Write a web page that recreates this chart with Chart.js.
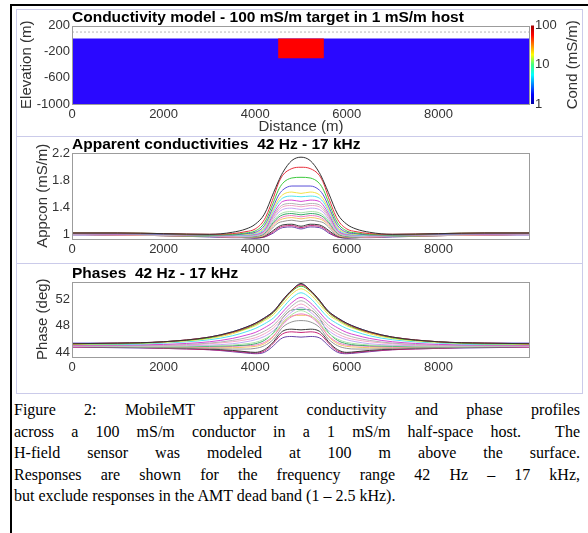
<!DOCTYPE html>
<html>
<head>
<meta charset="utf-8">
<script src="https://cdn.jsdelivr.net/npm/chart.js@4.4.0/dist/chart.umd.min.js"></script>
<style>
    body { margin: 0; width: 588px; height: 533px; overflow: hidden; position: relative; background: #fff; }
    .frame { position: absolute; left: 10px; top: 4px; width: 640px; height: 600px; border-top: 2px solid #000; border-left: 2px solid #000; }
    .panel { position: absolute; left: 16px; width: 567px; box-sizing: border-box; border: 1px solid #cbcbea; background: #fff; }
    .panel canvas { position: absolute; left: 0; top: 0; }
    .caption { position: absolute; left: 14px; top: 399px; width: 566px; font-family: "Liberation Serif", "Times New Roman", serif; font-size: 16px; line-height: 21.6px; color: #000; }
    .caption div { text-align: justify; text-align-last: justify; white-space: nowrap; }
    .caption div.last { text-align: left; text-align-last: left; }
</style>
</head>
<body>
<div class="frame"></div>
<div class="panel" style="top:9px;height:128px"><canvas id="modelChart" width="564" height="126"></canvas></div>
<div class="panel" style="top:136px;height:128px"><canvas id="appconChart" width="564" height="126"></canvas></div>
<div class="panel" style="top:263px;height:131px"><canvas id="phaseChart" width="564" height="129"></canvas></div>
<div class="caption">
    <div>Figure 2: MobileMT apparent conductivity and phase profiles</div>
    <div>across a 100 mS/m conductor in a 1 mS/m half-space host.&nbsp; The</div>
    <div>H-field sensor was modeled at 100 m above the surface.</div>
    <div>Responses are shown for the frequency range 42 Hz – 17 kHz,</div>
    <div class="last">but exclude responses in the AMT dead band (1 – 2.5 kHz).</div>
</div>
<script>
// model geometry (m)
const modelX = [0, 10000];
const hostTop = [0, 0];
const hostBottom = -1000;
const targetX = [4500, 5500];
const targetTop = [0, 0];
const targetBottom = -300;
const sensorX = [0, 10000];
const sensorHeight = [100, 100];
const condTicks = [1, 10, 100];
const elevTicks = [200, -200, -600, -1000];
const distTicks = [0, 2000, 4000, 6000, 8000];
const appconTicks = [1, 1.4, 1.8, 2.2];
const phaseTicks = [44, 48, 52];

// profile stations (m)
const distance = [0, 1000, 2000, 3000, 3500, 3800, 4000, 4200, 4400, 4500, 4600, 4800, 5000,
                  5200, 5400, 5500, 5600, 5800, 6000, 6200, 6500, 7000, 8000, 9000, 10000];

const freqLabels = ['42 Hz', '56 Hz', '75 Hz', '100 Hz', '133 Hz', '178 Hz', '237 Hz', '316 Hz', '421 Hz',
                    '562 Hz', '750 Hz', '2.7 kHz', '3.7 kHz', '4.9 kHz', '6.5 kHz', '8.7 kHz', '11.5 kHz', '17 kHz'];

// apparent conductivity, mS/m
const appcon = [
    [1.02,1.02,1.01,1.00,1.03,1.08,1.15,1.30,1.62,1.78,1.92,2.10,2.15,2.10,1.92,1.78,1.62,1.30,1.15,1.08,1.03,1.00,1.01,1.02,1.02],
    [1.02,1.02,1.01,1.00,1.01,1.04,1.08,1.22,1.55,1.75,1.88,1.98,2.00,1.98,1.88,1.75,1.55,1.22,1.08,1.04,1.01,1.00,1.01,1.02,1.02],
    [1.02,1.02,1.01,0.99,1.00,1.02,1.05,1.17,1.48,1.65,1.76,1.84,1.85,1.84,1.76,1.65,1.48,1.17,1.05,1.02,1.00,0.99,1.01,1.02,1.02],
    [1.01,1.01,1.00,0.99,0.99,1.01,1.03,1.13,1.42,1.57,1.66,1.72,1.72,1.72,1.66,1.57,1.42,1.13,1.03,1.01,0.99,0.99,1.00,1.01,1.01],
    [1.01,1.01,1.00,0.99,0.99,1.00,1.02,1.10,1.38,1.51,1.59,1.63,1.61,1.63,1.59,1.51,1.38,1.10,1.02,1.00,0.99,0.99,1.00,1.01,1.01],
    [1.01,1.01,1.00,0.99,0.98,0.99,1.01,1.08,1.35,1.47,1.54,1.57,1.56,1.57,1.54,1.47,1.35,1.08,1.01,0.99,0.98,0.99,1.00,1.01,1.01],
    [1.01,1.00,1.00,0.98,0.98,0.99,1.00,1.06,1.31,1.42,1.49,1.51,1.49,1.51,1.49,1.42,1.31,1.06,1.00,0.99,0.98,0.98,1.00,1.00,1.01],
    [1.01,1.00,0.99,0.98,0.98,0.98,0.99,1.05,1.28,1.38,1.44,1.46,1.44,1.46,1.44,1.38,1.28,1.05,0.99,0.98,0.98,0.98,0.99,1.00,1.01],
    [1.00,1.00,0.99,0.98,0.97,0.98,0.99,1.04,1.26,1.35,1.41,1.43,1.41,1.43,1.41,1.35,1.26,1.04,0.99,0.98,0.97,0.98,0.99,1.00,1.00],
    [1.00,1.00,0.99,0.98,0.97,0.97,0.98,1.03,1.23,1.32,1.37,1.39,1.37,1.39,1.37,1.32,1.23,1.03,0.98,0.97,0.97,0.98,0.99,1.00,1.00],
    [1.00,1.00,0.99,0.98,0.97,0.97,0.98,1.02,1.20,1.28,1.32,1.34,1.32,1.34,1.32,1.28,1.20,1.02,0.98,0.97,0.97,0.98,0.99,1.00,1.00],
    [1.00,1.00,0.99,0.97,0.97,0.96,0.97,1.01,1.18,1.25,1.29,1.31,1.29,1.31,1.29,1.25,1.18,1.01,0.97,0.96,0.97,0.97,0.99,1.00,1.00],
    [1.00,0.99,0.99,0.97,0.96,0.96,0.97,1.00,1.16,1.22,1.26,1.28,1.26,1.28,1.26,1.22,1.16,1.00,0.97,0.96,0.96,0.97,0.99,0.99,1.00],
    [1.00,0.99,0.98,0.97,0.96,0.96,0.96,0.99,1.14,1.20,1.23,1.25,1.23,1.25,1.23,1.20,1.14,0.99,0.96,0.96,0.96,0.97,0.98,0.99,1.00],
    [1.00,0.99,0.98,0.97,0.96,0.95,0.96,0.98,1.11,1.17,1.19,1.21,1.19,1.21,1.19,1.17,1.11,0.98,0.96,0.95,0.96,0.97,0.98,0.99,1.00],
    [1.00,0.99,0.98,0.97,0.96,0.95,0.95,0.97,1.06,1.11,1.14,1.15,1.12,1.15,1.14,1.11,1.06,0.97,0.95,0.95,0.96,0.97,0.98,0.99,1.00],
    [1.00,0.99,0.98,0.97,0.96,0.95,0.95,0.96,1.04,1.09,1.12,1.13,1.10,1.13,1.12,1.09,1.04,0.96,0.95,0.95,0.96,0.97,0.98,0.99,1.00],
    [0.99,0.99,0.98,0.96,0.95,0.95,0.94,0.96,1.02,1.07,1.10,1.11,1.08,1.11,1.10,1.07,1.02,0.96,0.94,0.95,0.95,0.96,0.98,0.99,0.99]
];

// phase, degrees
const phase = [
    [45.3,45.4,45.6,46.3,47.1,47.8,48.4,49.2,50.2,51.0,51.9,53.4,54.4,53.4,51.9,51.0,50.2,49.2,48.4,47.8,47.1,46.3,45.6,45.4,45.3],
    [45.3,45.4,45.6,46.3,47.0,47.7,48.3,49.1,50.1,50.9,51.8,53.3,54.2,53.3,51.8,50.9,50.1,49.1,48.3,47.7,47.0,46.3,45.6,45.4,45.3],
    [45.3,45.3,45.6,46.2,47.0,47.6,48.2,49.0,50.0,50.8,51.7,53.2,54.0,53.2,51.7,50.8,50.0,49.0,48.2,47.6,47.0,46.2,45.6,45.3,45.3],
    [45.4,45.4,45.6,46.3,47.1,47.8,48.4,49.2,50.2,51.0,51.9,53.4,54.3,53.4,51.9,51.0,50.2,49.2,48.4,47.8,47.1,46.3,45.6,45.4,45.4],
    [45.2,45.3,45.5,46.1,46.8,47.5,48.0,48.8,49.7,50.5,51.3,52.8,53.6,52.8,51.3,50.5,49.7,48.8,48.0,47.5,46.8,46.1,45.5,45.3,45.2],
    [45.2,45.2,45.4,45.9,46.5,47.1,47.6,48.3,49.2,49.9,50.7,52.2,53.0,52.2,50.7,49.9,49.2,48.3,47.6,47.1,46.5,45.9,45.4,45.2,45.2],
    [45.1,45.1,45.2,45.6,46.1,46.6,47.0,47.7,48.6,49.3,50.1,51.5,52.3,51.5,50.1,49.3,48.6,47.7,47.0,46.6,46.1,45.6,45.2,45.1,45.1],
    [45.1,45.1,45.1,45.4,45.8,46.2,46.6,47.2,48.1,48.8,49.6,51.0,51.8,51.0,49.6,48.8,48.1,47.2,46.6,46.2,45.8,45.4,45.1,45.1,45.1],
    [45.0,45.0,45.0,45.3,45.6,45.9,46.2,46.8,47.7,48.4,49.2,50.5,51.3,50.5,49.2,48.4,47.7,46.8,46.2,45.9,45.6,45.3,45.0,45.0,45.0],
    [45.0,45.0,45.0,45.1,45.3,45.6,45.9,46.4,47.3,48.0,48.8,50.1,50.8,50.1,48.8,48.0,47.3,46.4,45.9,45.6,45.3,45.1,45.0,45.0,45.0],
    [45.0,44.9,44.9,45.0,45.1,45.3,45.5,46.0,46.9,47.6,48.4,49.7,50.3,49.7,48.4,47.6,46.9,46.0,45.5,45.3,45.1,45.0,44.9,44.9,45.0],
    [45.0,44.9,44.8,44.9,45.0,45.1,45.3,45.8,47.0,48.0,49.2,50.4,50.5,50.4,49.2,48.0,47.0,45.8,45.3,45.1,45.0,44.9,44.8,44.9,45.0],
    [44.9,44.9,44.8,44.8,44.9,45.0,45.1,45.5,46.5,47.3,48.2,49.4,49.8,49.4,48.2,47.3,46.5,45.5,45.1,45.0,44.9,44.8,44.8,44.9,44.9],
    [44.9,44.9,44.8,44.7,44.7,44.8,44.9,45.3,46.4,47.4,48.5,49.5,49.6,49.5,48.5,47.4,46.4,45.3,44.9,44.8,44.7,44.7,44.8,44.9,44.9],
    [44.9,44.8,44.7,44.6,44.5,44.5,44.6,45.0,46.0,46.9,47.8,48.6,48.8,48.6,47.8,46.9,46.0,45.0,44.6,44.5,44.5,44.6,44.7,44.8,44.9],
    [44.9,44.8,44.7,44.5,44.3,44.1,44.0,44.4,45.6,46.5,47.2,47.5,47.4,47.5,47.2,46.5,45.6,44.4,44.0,44.1,44.3,44.5,44.7,44.8,44.9],
    [44.8,44.8,44.6,44.4,44.2,44.0,43.9,44.2,45.4,46.2,46.8,47.1,47.0,47.1,46.8,46.2,45.4,44.2,43.9,44.0,44.2,44.4,44.6,44.8,44.8],
    [44.8,44.7,44.6,44.4,44.1,43.9,43.8,44.0,45.0,45.7,46.2,46.4,46.3,46.4,46.2,45.7,45.0,44.0,43.8,43.9,44.1,44.4,44.6,44.7,44.8]
];

const lineColors = ['#333333', '#e8303c', '#3cc83c', '#5a50d8', '#f2e24a', '#4ee4f0', '#d448d4', '#b4b4b4', '#f4a6c8',
                    '#c4a8f4', '#a8e4a8', '#3aa86a', '#f07cc4', '#f2c468', '#949494', '#3a3a3a', '#c8287a', '#6a44a8'];
const jetStops = [[0, '#0000a8'], [0.12, '#0000ff'], [0.37, '#00ffff'], [0.5, '#40ff80'], [0.63, '#ffff00'], [0.88, '#ff0000'], [1, '#a00000']];

const FONT = '"Liberation Sans", Arial, sans-serif';
const TICK_COLOR = '#333333';
const TICK_FONT = { family: FONT, size: 13 };
const AXIS_TITLE_FONT = { family: FONT, size: 15, lineHeight: 1.2 };

// gray box round the plot area
const framePlugin = {
    id: 'plotFrame',
    afterDatasetsDraw(chart) {
        const a = chart.chartArea;
        const ctx = chart.ctx;
        ctx.save();
        ctx.strokeStyle = '#9c9c9c';
        ctx.lineWidth = 1;
        ctx.strokeRect(Math.round(a.left) + 0.5, Math.round(a.top) + 0.5, Math.round(a.right - a.left) - 1, Math.round(a.bottom - a.top) - 1);
        ctx.restore();
    }
};

// colour scale strip next to the model section
const colorbarPlugin = {
    id: 'colorbar',
    afterDraw(chart) {
        const s = chart.scales.cond;
        const ctx = chart.ctx;
        const grad = ctx.createLinearGradient(0, s.bottom, 0, s.top);
        jetStops.forEach(st => grad.addColorStop(st[0], st[1]));
        ctx.save();
        ctx.fillStyle = grad;
        ctx.fillRect(chart.chartArea.right + 1, s.top, 3, s.bottom - s.top);
        ctx.fillStyle = TICK_COLOR;
        ctx.font = '15px ' + FONT;
        ctx.textAlign = 'center';
        ctx.textBaseline = 'middle';
        ctx.translate(556, (s.top + s.bottom) / 2);
        ctx.rotate(-Math.PI / 2);
        ctx.fillText('Cond (mS/m)', 0, 0);
        ctx.restore();
    }
};

function fixedWidth(w) { return scale => { scale.width = w; }; }
function fixedHeight(h) { return scale => { scale.height = h; }; }
function setTicks(list) { return scale => { scale.ticks = list.map(v => ({ value: v })); }; }
const plainLabel = v => String(v);

function titleOpts(text, padTop) {
    return {
        display: true, text: text, align: 'start', fullSize: false, color: '#000',
        font: { family: FONT, size: 15.5, weight: 'bold', lineHeight: 1 },
        padding: { top: padTop, bottom: 0 }
    };
}

function distanceAxis(height, withTitle) {
    return {
        type: 'linear', min: 0, max: 10000,
        afterBuildTicks: setTicks(distTicks),
        afterFit: fixedHeight(height),
        grid: { display: false, drawTicks: false }, border: { display: false },
        ticks: { padding: 3, color: TICK_COLOR, font: TICK_FONT, maxRotation: 0, callback: plainLabel },
        title: { display: withTitle, text: 'Distance (m)', color: TICK_COLOR, padding: 0, font: AXIS_TITLE_FONT }
    };
}

function valueAxis(min, max, ticks, width, title) {
    return {
        type: 'linear', min: min, max: max,
        afterBuildTicks: setTicks(ticks),
        afterFit: fixedWidth(width),
        grid: { display: false, drawTicks: false }, border: { display: false },
        ticks: { padding: 2, color: TICK_COLOR, font: TICK_FONT, callback: plainLabel },
        title: { display: true, text: title, color: TICK_COLOR, padding: { top: 1, bottom: 0 }, font: AXIS_TITLE_FONT }
    };
}

function pts(xs, ys) { return xs.map((x, i) => ({ x: x, y: ys[i] })); }

function profileDatasets(rows) {
    return rows.map((row, i) => ({
        label: freqLabels[i],
        data: pts(distance, row),
        borderColor: lineColors[i],
        borderWidth: 1,
        pointRadius: 0,
        cubicInterpolationMode: 'monotone'
    }));
}

const baseOpts = {
    responsive: false, animation: false, devicePixelRatio: 1,
    events: []
};

new Chart(document.getElementById('modelChart'), {
    type: 'scatter',
    data: {
        datasets: [
            { label: 'target', data: pts(targetX, targetTop), showLine: true, borderWidth: 0, pointRadius: 0,
              backgroundColor: '#ff0000', fill: { value: targetBottom }, order: 0 },
            { label: 'sensor', data: pts(sensorX, sensorHeight), showLine: true, borderWidth: 1, pointRadius: 0,
              borderColor: '#b8b8b8', borderDash: [2, 2], order: 1 },
            { label: 'host', data: pts(modelX, hostTop), showLine: true, borderWidth: 0, pointRadius: 0,
              backgroundColor: '#2a08ff', fill: { value: hostBottom }, order: 2 }
        ]
    },
    options: Object.assign({}, baseOpts, {
        layout: { padding: 0 },
        plugins: { legend: { display: false }, tooltip: { enabled: false }, title: titleOpts('Conductivity model - 100 mS/m target in 1 mS/m host', 0) },
        scales: {
            x: distanceAxis(32, true),
            y: valueAxis(-1000, 200, elevTicks, 55, 'Elevation (m)'),
            cond: {
                type: 'logarithmic', position: 'right', min: 1, max: 100,
                afterBuildTicks: setTicks(condTicks),
                afterFit: fixedWidth(51),
                grid: { display: false, drawTicks: false }, border: { display: false },
                ticks: { padding: 5, color: TICK_COLOR, font: TICK_FONT, callback: plainLabel }
            }
        }
    }),
    plugins: [framePlugin, colorbarPlugin]
});

new Chart(document.getElementById('appconChart'), {
    type: 'line',
    data: { datasets: profileDatasets(appcon) },
    options: Object.assign({}, baseOpts, {
        layout: { padding: { left: 16, right: 51, top: 0, bottom: 0 } },
        plugins: { legend: { display: false }, tooltip: { enabled: false }, title: titleOpts('Apparent conductivities  42 Hz - 17 kHz', 0) },
        scales: {
            x: distanceAxis(24, false),
            y: valueAxis(0.93, 2.22, appconTicks, 39, 'Appcon (mS/m)')
        }
    }),
    plugins: [framePlugin]
});

new Chart(document.getElementById('phaseChart'), {
    type: 'line',
    data: { datasets: profileDatasets(phase) },
    options: Object.assign({}, baseOpts, {
        layout: { padding: { left: 16, right: 51, top: 0, bottom: 0 } },
        plugins: { legend: { display: false }, tooltip: { enabled: false }, title: titleOpts('Phases  42 Hz - 17 kHz', 2) },
        scales: {
            x: distanceAxis(36, false),
            y: valueAxis(43.3, 54.7, phaseTicks, 39, 'Phase (deg)')
        }
    }),
    plugins: [framePlugin]
});
</script>
</body>
</html>
